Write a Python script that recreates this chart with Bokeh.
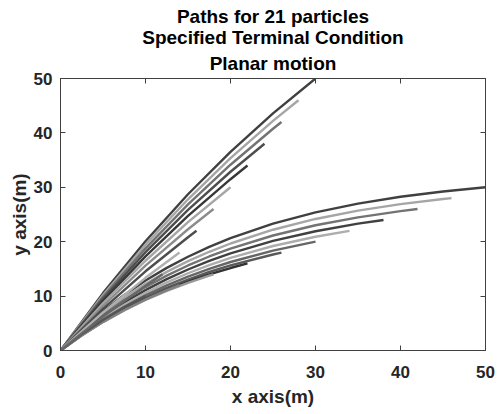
from bokeh.plotting import figure
from bokeh.models import ColumnDataSource, LinearAxis, Title, FixedTicker, Range1d
from bokeh.embed import file_html
from bokeh.resources import INLINE

# Upper family of paths (terminal points on y = 2x - 10)
upper_x = [
    [0, 5, 10, 15, 20, 25, 30],
    [0, 5, 10, 15, 20, 25, 28],
    [0, 5, 10, 15, 20, 25, 26],
    [0, 5, 10, 15, 20, 24],
    [0, 5, 10, 15, 20, 22],
    [0, 5, 10, 15, 20],
    [0, 5, 10, 15, 18],
    [0, 5, 10, 15, 16],
    [0, 5, 10, 14],
    [0, 5, 10, 12],
]
upper_y = [
    [0, 10.55, 20.09, 28.72, 36.53, 43.60, 50.0],
    [0, 10.21, 19.45, 27.80, 35.37, 42.21, 46.0],
    [0, 9.86, 18.78, 26.85, 34.15, 40.76, 42.0],
    [0, 9.49, 18.07, 25.84, 32.86, 38.0],
    [0, 9.09, 17.31, 24.76, 31.49, 34.0],
    [0, 8.66, 16.50, 23.59, 30.0],
    [0, 8.18, 15.59, 22.29, 26.0],
    [0, 7.65, 14.56, 20.82, 22.0],
    [0, 7.01, 13.36, 18.0],
    [0, 6.24, 11.89, 14.0],
]

# Lower family of paths (terminal points on y = x/2 + 5)
lower_x = [
    [0, 2.5, 5, 7.5, 10, 12.5, 15, 17.5, 20, 25, 30, 35, 40, 45, 50],
    [0, 2.5, 5, 7.5, 10, 12.5, 15, 17.5, 20, 25, 30, 35, 40, 45, 46],
    [0, 2.5, 5, 7.5, 10, 12.5, 15, 17.5, 20, 25, 30, 35, 40, 42],
    [0, 2.5, 5, 7.5, 10, 12.5, 15, 17.5, 20, 25, 30, 35, 38],
    [0, 2.5, 5, 7.5, 10, 12.5, 15, 17.5, 20, 25, 30, 34],
    [0, 2.5, 5, 7.5, 10, 12.5, 15, 17.5, 20, 25, 30],
    [0, 2.5, 5, 7.5, 10, 12.5, 15, 17.5, 20, 25, 26],
    [0, 2.5, 5, 7.5, 10, 12.5, 15, 17.5, 20, 22],
    [0, 2.5, 5, 7.5, 10, 12.5, 15, 17.5, 18],
    [0, 2.5, 5, 7.5, 10, 12.5, 14],
    [0, 2.5, 5, 7.5, 10],
]
lower_y = [
    [0, 3.84, 7.23, 10.22, 12.86, 15.19, 17.24, 19.06, 20.66, 23.32, 25.39, 27.00, 28.26, 29.24, 30.0],
    [0, 3.66, 6.88, 9.73, 12.25, 14.46, 16.42, 18.15, 19.67, 22.20, 24.18, 25.71, 26.91, 27.84, 28.0],
    [0, 3.48, 6.55, 9.27, 11.66, 13.77, 15.63, 17.28, 18.73, 21.14, 23.02, 24.48, 25.62, 26.0],
    [0, 3.32, 6.24, 8.82, 11.10, 13.11, 14.89, 16.46, 17.84, 20.14, 21.92, 23.32, 24.0],
    [0, 3.16, 5.95, 8.42, 10.59, 12.51, 14.20, 15.70, 17.02, 19.21, 20.91, 22.0],
    [0, 3.02, 5.69, 8.05, 10.13, 11.96, 13.58, 15.01, 16.27, 18.37, 20.0],
    [0, 2.91, 5.47, 7.74, 9.74, 11.50, 13.05, 14.43, 15.64, 17.65, 18.0],
    [0, 2.82, 5.30, 7.50, 9.44, 11.14, 12.65, 13.98, 15.16, 16.0],
    [0, 2.77, 5.22, 7.38, 9.28, 10.96, 12.45, 13.76, 14.0],
    [0, 2.80, 5.27, 7.45, 9.38, 11.08, 12.0],
    [0, 2.99, 5.62, 7.95, 10.0],
]

upper_colors = ["#404040", "#a6a6a6", "#737373", "#4d4d4d", "#383838",
                "#a6a6a6", "#8c8c8c", "#4d4d4d", "#b0b0b0", "#666666"]
lower_colors = ["#404040", "#a6a6a6", "#737373", "#404040", "#adadad",
                "#666666", "#595959", "#333333", "#999999", "#808080", "#555555"]

ticks = [0, 10, 20, 30, 40, 50]
title_lines = ["Planar motion", "Specified Terminal Condition", "Paths for 21 particles"]
FONT = "Liberation Sans"
AX = "#404040"
TXT = "#262626"

p = figure(frame_width=425, frame_height=272,
           x_range=Range1d(0, 50), y_range=Range1d(0, 50),
           output_backend="svg", toolbar_location=None,
           min_border=0)
p.background_fill_color = "white"
p.border_fill_color = "white"
p.outline_line_color = AX
p.outline_line_width = 1
p.xgrid.visible = False
p.ygrid.visible = False

src_u = ColumnDataSource(dict(xs=upper_x, ys=upper_y, c=upper_colors))
src_l = ColumnDataSource(dict(xs=lower_x, ys=lower_y, c=lower_colors))
p.multi_line("xs", "ys", source=src_l, line_color="c", line_width=2.4)
p.multi_line("xs", "ys", source=src_u, line_color="c", line_width=2.4)

def style_axis(ax, show_labels=True):
    ax.ticker = FixedTicker(ticks=ticks)
    ax.major_tick_in = 5
    ax.major_tick_out = 0
    ax.minor_tick_line_color = None
    ax.axis_line_color = AX
    ax.major_tick_line_color = AX
    ax.major_label_text_font = FONT
    ax.major_label_text_font_style = "bold"
    ax.major_label_text_color = TXT
    if show_labels:
        ax.major_label_text_font_size = "17px"
    else:
        ax.major_label_text_font_size = "0px"
        ax.major_label_standoff = 0

def spacer_axis(size):
    # invisible axis used only as padding outside the labelled axes
    ax = LinearAxis(ticker=FixedTicker(ticks=[25]), major_tick_out=size, major_tick_in=0,
                    axis_line_color=None, major_tick_line_color=None,
                    minor_tick_line_color=None, major_label_text_font_size="0px",
                    major_label_text_alpha=0, major_label_standoff=0)
    return ax

style_axis(p.xaxis[0])
style_axis(p.yaxis[0])
p.xaxis[0].major_label_standoff = 15
p.yaxis[0].major_label_standoff = 8
p.xaxis.axis_label = "x axis(m)"
p.yaxis.axis_label = "y axis(m)"
for ax in (p.xaxis[0], p.yaxis[0]):
    ax.axis_label_text_font = FONT
    ax.axis_label_text_font_style = "bold"
    ax.axis_label_text_font_size = "19px"
    ax.axis_label_text_color = TXT
p.xaxis[0].axis_label_standoff = 5
p.yaxis[0].axis_label_standoff = 1

top_ax = LinearAxis()
right_ax = LinearAxis()
style_axis(top_ax, False)
style_axis(right_ax, False)
p.add_layout(top_ax, "above")
p.add_layout(right_ax, "right")
p.add_layout(spacer_axis(5), "left")
p.add_layout(spacer_axis(11), "right")

standoffs = [8.5, -3, 0]
for line, so in zip(title_lines, standoffs):
    t = Title(text=line, align="center", text_font=FONT, text_font_style="bold",
              text_font_size="19px", text_color="#000000", standoff=so)
    p.add_layout(t, "above")
p.add_layout(spacer_axis(3), "above")

open("out.html", "w").write(file_html(p, INLINE))
